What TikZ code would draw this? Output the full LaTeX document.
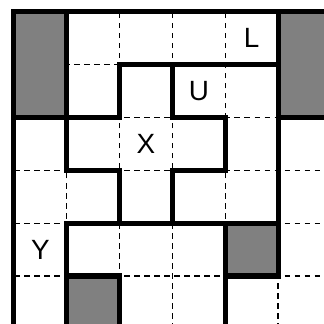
\documentclass[tikz,border=0pt]{standalone}
\usepackage{fontspec}
\setsansfont{Liberation Sans}
\definecolor{wallgray}{HTML}{808080}
\tikzset{
  gridline/.style={draw=black,dash pattern=on 3pt off 2.4pt,line width=0.6pt},
  wall/.style={draw=black,line width=2.7pt,line cap=rect,line join=miter},
  blocked/.style={fill=wallgray},
  piece/.style={font=\sffamily\fontsize{15}{17}\selectfont,text=black}
}
\begin{document}
\begin{tikzpicture}[x=1cm,y=1cm]
\path[use as bounding box,fill=white] (-0.265,0.227) rectangle (5.871,-5.909);
\clip (-0.265,0.227) rectangle (5.871,-5.909);
% dashed board
\draw[gridline] (0,0) grid (6,-6);
% blocked cells
\fill[blocked] (0,0) rectangle (1,-2);
\fill[blocked] (5,0) rectangle (6,-2);
\fill[blocked] (4,-4) rectangle (5,-5);
\fill[blocked] (1,-5) rectangle (2,-6);
% piece outlines
\draw[wall] (0,-6)--(0,0)--(6,0);
\draw[wall] (0,-2)--(2,-2)--(2,-1)--(5,-1);
\draw[wall] (1,0)--(1,-3)--(2,-3)--(2,-4);
\draw[wall] (3,-1)--(3,-2)--(4,-2)--(4,-3)--(3,-3)--(3,-4);
\draw[wall] (5,0)--(5,-5)--(4,-5); \draw[wall] (5,-2)--(6,-2);
\draw[wall] (1,-6)--(1,-4)--(5,-4);
\draw[wall] (4,-4)--(4,-6);
\draw[wall] (1,-5)--(2,-5)--(2,-6);
% piece names
\node[piece] (pL) at (4.5,-0.5) {L};
\node[piece] (pU) at (3.5,-1.5) {U};
\node[piece] (pX) at (2.5,-2.5) {X};
\node[piece] (pY) at (0.5,-4.5) {Y};
\end{tikzpicture}
\end{document}
